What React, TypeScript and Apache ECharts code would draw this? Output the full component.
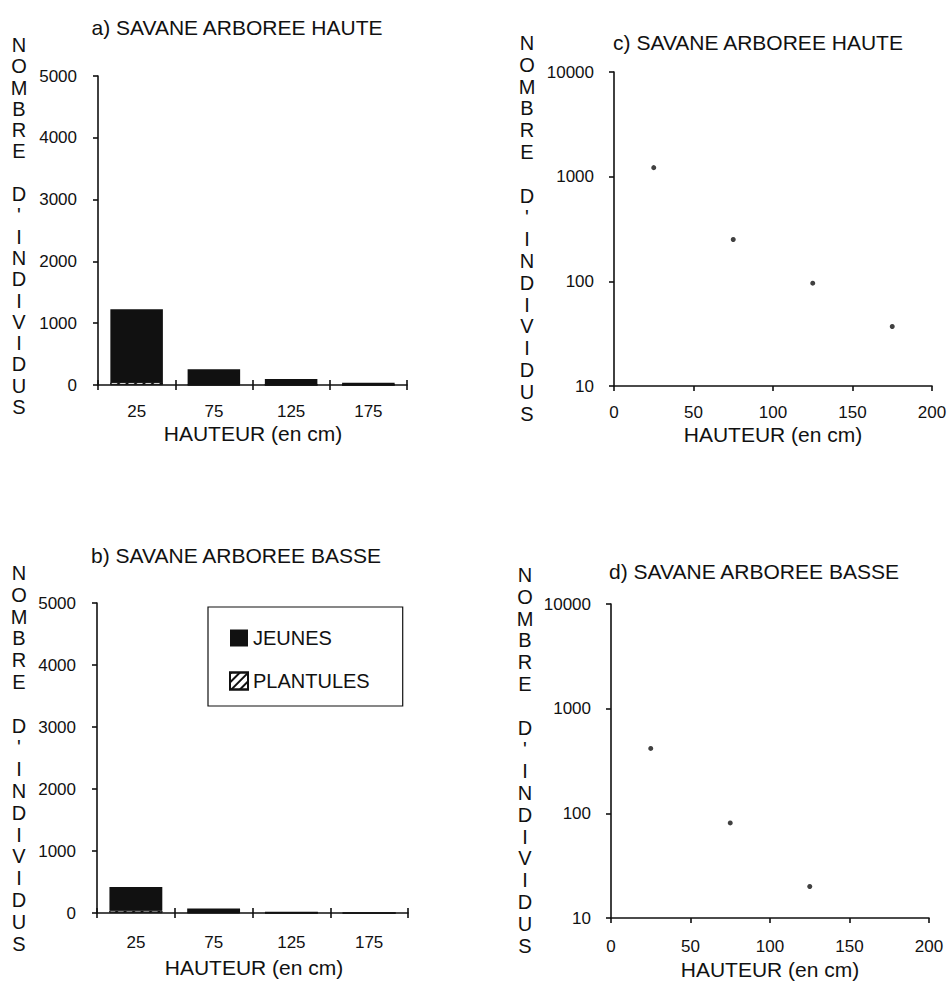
import React, { useEffect, useRef } from "react";
import * as echarts from "echarts";

// ---- data ----
const categories = ["25", "75", "125", "175"];
const jeunesA = [1180, 250, 96, 37];
const plantulesA = [45, 5, 0, 0];
const jeunesB = [380, 62, 18, 0];
const plantulesB = [40, 10, 2, 0];
const heightsC = [25, 75, 125, 175];
const countsC = [1220, 251, 96, 37];
const heightsD = [25, 75, 125];
const countsD = [417, 81, 20];
const titles = [
  "a) SAVANE ARBOREE HAUTE",
  "b) SAVANE ARBOREE BASSE",
  "c) SAVANE ARBOREE HAUTE",
  "d) SAVANE ARBOREE BASSE",
];
const yName = "NOMBRE D'INDIVIDUS";
const xName = "HAUTEUR (en cm)";
const legendNames = ["JEUNES", "PLANTULES"];

const FONT = "Liberation Sans, Arial, sans-serif";
const INK = "#111";

// stack the letters one per line, with a blank line for the space
const vertical = (s: string) =>
  s
    .split("")
    .map((c) => (c === " " ? "" : c))
    .join("\n");

export default function App() {
  const ref = useRef<HTMLDivElement>(null);
  useEffect(() => {
    if (!ref.current) return;
    const chart = echarts.init(ref.current, null, { renderer: "svg" });
    const axisLine = () => ({ show: true, lineStyle: { color: INK, width: 1.6 } });
    const label = () => ({ color: INK, fontFamily: FONT, fontSize: 17, formatter: (v: any) => String(v) });
    const tick = () => ({ show: true, length: 5, lineStyle: { color: INK, width: 1.6 } });
    const hatch = {
      color: "#fff",
      borderColor: INK,
      borderWidth: 0.8,
      decal: {
        symbol: "rect",
        symbolSize: 1,
        color: INK,
        dashArrayX: [[1, 0]],
        dashArrayY: [1.5, 3.5],
        rotation: -Math.PI / 4,
      },
    };
    const grids = [
      { left: 98, top: 76, width: 309, height: 309 },
      { left: 97, top: 603, width: 311, height: 310 },
      { left: 614, top: 72, width: 318, height: 314 },
      { left: 611, top: 604, width: 318, height: 314 },
    ];
    // category axis drawn 5px below the plot, ticks 10px long pointing up:
    // they cross the axis line, which the second axis draws.
    const catX = (g: number, margin: number) => ({
      type: "category",
      gridIndex: g,
      position: "bottom",
      offset: 5,
      data: categories,
      boundaryGap: true,
      axisLine: { show: false, onZero: false },
      axisTick: { show: true, inside: true, length: 10, lineStyle: { color: INK, width: 1.6 } },
      axisLabel: { ...label(), margin: margin - 5 },
    });
    const catXLine = (g: number) => ({
      type: "category",
      gridIndex: g,
      position: "bottom",
      data: categories,
      boundaryGap: true,
      axisLine: axisLine(),
      axisTick: { show: false },
      axisLabel: { show: false },
    });
    const valX = (g: number, margin: number) => ({
      type: "value",
      gridIndex: g,
      min: 0,
      max: 200,
      interval: 50,
      splitLine: { show: false },
      axisLine: axisLine(),
      axisTick: tick(),
      axisLabel: { ...label(), margin },
    });
    const linY = (g: number) => ({
      type: "value",
      gridIndex: g,
      min: 0,
      max: 5000,
      interval: 1000,
      splitLine: { show: false },
      axisLine: axisLine(),
      axisTick: tick(),
      axisLabel: { ...label(), margin: 21 },
    });
    const logY = (g: number) => ({
      type: "log",
      logBase: 10,
      gridIndex: g,
      min: 10,
      max: 10000,
      splitLine: { show: false },
      minorTick: { show: false },
      axisLine: axisLine(),
      axisTick: tick(),
      axisLabel: { ...label(), margin: 20 },
    });

    const text = (x: number, y: number, t: string, size: number, extra: any = {}) => ({
      type: "text",
      x,
      y,
      style: {
        text: t,
        fill: INK,
        font: `${size}px ${FONT}`,
        textAlign: "center",
        textVerticalAlign: "middle",
        ...extra,
      },
    });

    const vText = (x: number, yFirst: number, lh: number) =>
      text(x, yFirst - lh / 2, vertical(yName), 20, { textVerticalAlign: "top", lineHeight: lh });

    const option: any = {
      animation: false,
      backgroundColor: "#fff",
      grid: grids,
      legend: {
        data: legendNames,
        orient: "vertical",
        left: 208,
        top: 607,
        icon: "rect",
        itemWidth: 18,
        itemHeight: 17,
        itemGap: 23,
        padding: [21, 33, 15, 21],
        borderColor: INK,
        borderWidth: 1.2,
        selectedMode: false,
        textStyle: { color: INK, fontFamily: FONT, fontSize: 20, lineHeight: 17 },
      },
      xAxis: [catX(0, 18), catX(1, 21), valX(2, 18), valX(3, 20), catXLine(0), catXLine(1)],
      yAxis: [linY(0), linY(1), logY(2), logY(3)],
      series: [
        { name: "PLANTULES", type: "bar", xAxisIndex: 0, yAxisIndex: 0, stack: "a", barWidth: "68%", data: plantulesA, itemStyle: hatch },
        { name: "JEUNES", type: "bar", xAxisIndex: 0, yAxisIndex: 0, stack: "a", barWidth: "68%", data: jeunesA, itemStyle: { color: INK } },
        { name: "PLANTULES", type: "bar", xAxisIndex: 1, yAxisIndex: 1, stack: "b", barWidth: "68%", data: plantulesB, itemStyle: hatch },
        { name: "JEUNES", type: "bar", xAxisIndex: 1, yAxisIndex: 1, stack: "b", barWidth: "68%", data: jeunesB, itemStyle: { color: INK } },
        {
          type: "scatter",
          xAxisIndex: 2,
          yAxisIndex: 2,
          symbol: "circle",
          symbolSize: 5,
          itemStyle: { color: INK },
          data: heightsC.map((h, i) => [h, countsC[i]]),
        },
        {
          type: "scatter",
          xAxisIndex: 3,
          yAxisIndex: 3,
          symbol: "circle",
          symbolSize: 5,
          itemStyle: { color: INK },
          data: heightsD.map((h, i) => [h, countsD[i]]),
        },
      ],
      graphic: [
        text(237, 27, titles[0], 21),
        text(236, 555, titles[1], 21),
        text(758, 42, titles[2], 21),
        text(754, 571, titles[3], 21),
        text(253, 433, xName, 21),
        text(254, 967, xName, 21),
        text(773, 434, xName, 21),
        text(770, 969, xName, 21),
        vText(19, 45, 21.3),
        vText(19, 573, 21.8),
        vText(527, 43, 21.8),
        vText(525, 575, 21.8),
      ],
    };
    chart.setOption(option);
    return () => chart.dispose();
  }, []);
  return (
    <div
      ref={ref}
      style={{ position: "absolute", left: 0, top: 0, width: 951, height: 981, background: "#fff" }}
    />
  );
}
